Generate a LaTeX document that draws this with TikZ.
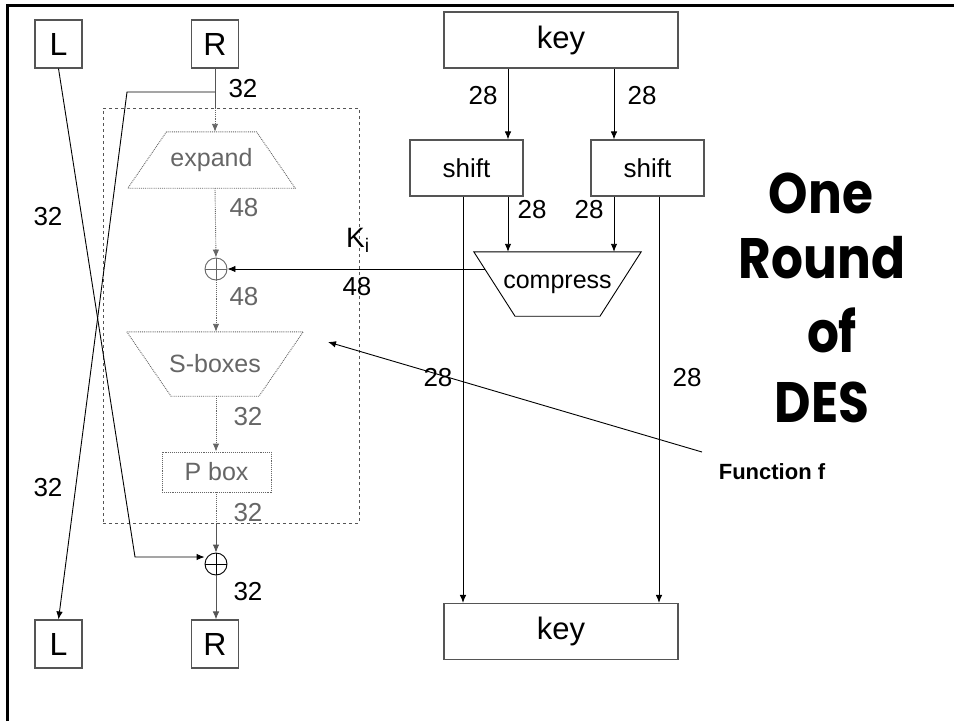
\documentclass[tikz,border=0pt]{standalone}
\usepackage{fontspec}
\setmainfont{Liberation Sans}
\newfontfamily\titlefont[FakeStretch=0.88]{Poppins}
\usetikzlibrary{arrows.meta,calc}
\definecolor{fgray}{HTML}{666666}
\definecolor{boxc}{HTML}{555555}
\tikzset{
  lbl/.style={font=\fontsize{26}{30}\selectfont, inner sep=0pt},
  glbl/.style={lbl, text=fgray},
  blk/.style={draw=boxc, line width=1.1pt, inner sep=0pt},
  regbox/.style={blk, minimum width=47pt, minimum height=48pt, font=\fontsize{32}{36}\selectfont},
  keybox/.style={blk, minimum width=234pt, minimum height=56pt, font=\fontsize{31}{36}\selectfont},
  shiftbox/.style={blk, minimum width=113pt, minimum height=56pt, font=\fontsize{26}{30}\selectfont},
  ghost/.style={inner sep=0pt, font=\fontsize{25}{30}\selectfont},
  gshape/.style={draw=fgray, line width=0.9pt, densely dotted},
  wire/.style={line width=0.9pt},
  arr/.style={wire, -{Latex[length=8pt,width=6.5pt]}},
  gwire/.style={wire, draw=fgray, densely dotted},
  garr/.style={gwire, -{Latex[length=8pt,width=6.5pt,fill=fgray]}},
  xorop/.style={circle, draw, line width=0.9pt, minimum size=22pt, inner sep=0pt,
    path picture={\draw[line width=0.9pt]
      (path picture bounding box.north) -- (path picture bounding box.south)
      (path picture bounding box.west) -- (path picture bounding box.east);}},
  titletxt/.style={anchor=base, inner sep=0pt, font=\titlefont\bfseries\fontsize{57}{70}\selectfont},
}
\begin{document}
\begin{tikzpicture}[x=1pt,y=-1pt]
\useasboundingbox (0,0) rectangle (954,721);

% page frame (top and left rules)
\draw[line width=3pt] (7.5,721) -- (7.5,5.5) -- (954,5.5);

% ---------- data path ----------
\node[regbox] (L1) at (58.5,44) {L};
\node[regbox] (R1) at (215,44) {R};
\node[regbox] (L2) at (58.5,644) {L};
\node[regbox] (R2) at (215,644) {R};

% the round function f
\node[draw=boxc, dashed, line width=0.9pt, minimum width=256pt, minimum height=415pt, inner sep=0pt] (fbox) at (231,315.5) {};

\node[ghost, minimum width=167pt, minimum height=56pt, text=fgray] (exp) at (211.5,160) {expand};
\draw[gshape] ($(exp.north)+(-45,0)$) -- ($(exp.north)+(45,0)$) -- (exp.south east) -- (exp.south west) -- cycle;

\node[xorop, draw=fgray, path picture={\draw[fgray, line width=0.9pt]
      (path picture bounding box.north) -- (path picture bounding box.south)
      (path picture bounding box.west) -- (path picture bounding box.east);}] (xor1) at (216,269) {};

\node[ghost, minimum width=176pt, minimum height=64pt, text=fgray] (sbox) at (215,364) {S-boxes};
\draw[gshape] (sbox.north west) -- (sbox.north east) -- ($(sbox.south)+(44,0)$) -- ($(sbox.south)+(-44,0)$) -- cycle;

\node[ghost, gshape, minimum width=109pt, minimum height=40pt, text=fgray] (pbox) at (216.5,472) {P box};

\node[xorop] (xor2) at (216,564) {};

% connectors of the data path
\coordinate (rsplit) at (215,92);
\coordinate (rin) at (215,108);
\coordinate (rbend) at (127,92);
\coordinate (lbend) at (135,557);
\coordinate (pout) at (216,523);

\draw[wire, draw=boxc] (R1.south) -- (rin);
\draw[garr] (rin) -- (rin |- exp.north);
\draw[garr] (rin |- exp.south) -- (xor1.north);
\draw[garr] (xor1.south) -- (xor1.south |- sbox.north);
\draw[garr] (xor1.south |- sbox.south) -- (xor1.south |- pbox.north);
\draw[gwire] (pout |- pbox.south) -- (pout);
\draw[arr, draw=boxc] (pout) -- (xor2.north);
\draw[arr, draw=boxc] (xor2.south) -- (xor2.south |- R2.north);

\draw[arr] (rsplit) -- (rbend) -- (L2.north);
\draw[arr] (L1.south) -- (lbend) -- (lbend -| xor2.west);

% width labels
\node[lbl] (n1) at (243,89) {32};
\node[lbl] (n2) at (48,217) {32};
\node[lbl] (n3) at (48,488) {32};
\node[glbl] (n4) at (244,208) {48};
\node[glbl] (n5) at (244,297) {48};
\node[glbl] (n6) at (248,417) {32};
\node[glbl] (n7) at (248,513) {32};
\node[lbl] (n8) at (248,592) {32};

% ---------- key schedule ----------
\node[keybox] (keytop) at (561,40) {key};
\node[keybox] (keybot) at (561,631.5) {key};
\node[shiftbox] (shift1) at (466.5,168) {shift};
\node[shiftbox] (shift2) at (647.5,168) {shift};

\node[ghost, minimum width=167pt, minimum height=64pt] (cmp) at (557.5,284) {compress};
\draw[line width=0.9pt] (cmp.north west) -- (cmp.north east) -- ($(cmp.south)+(42.5,0)$) -- ($(cmp.south)+(-42.5,0)$) -- cycle;

\coordinate (ka) at (508,0);
\coordinate (kb) at (614,0);
\coordinate (da) at (463,0);
\coordinate (db) at (659,0);
\coordinate (kiout) at (485,269);

\draw[arr] (keytop.south -| ka) -- (shift1.north -| ka);
\draw[arr] (keytop.south -| kb) -- (shift2.north -| kb);
\draw[arr] (shift1.south -| ka) -- (cmp.north -| ka);
\draw[arr] (shift2.south -| kb) -- (cmp.north -| kb);
\draw[arr] (shift1.south -| da) -- (keybot.north -| da);
\draw[arr] (shift2.south -| db) -- (keybot.north -| db);
\draw[arr] (kiout) -- (xor1.east);

\node[lbl] (m1) at (483,96) {28};
\node[lbl] (m2) at (642,96) {28};
\node[lbl] (m3) at (532,210) {28};
\node[lbl] (m4) at (589,210) {28};
\node[lbl] (m5) at (438,378) {28};
\node[lbl] (m6) at (687,378) {28};
\node[lbl] (m7) at (357,287) {48};
\node[inner sep=0pt, font=\fontsize{28}{32}\selectfont, anchor=base west] (ki) at (346,247) {K\textsubscript{i}};

% ---------- annotations ----------
\coordinate (fstart) at (702,452);
\coordinate (ftip) at (328,342);
\draw[arr] (fstart) -- (ftip);
\node[inner sep=0pt, font=\bfseries\fontsize{22}{26}\selectfont] (fname) at (772,472) {Function f};

\node[titletxt] (t1) at (821,213) {One};
\node[titletxt] (t2) at (822,278) {Round};
\node[titletxt] (t3) at (832,352) {of};
\node[titletxt] (t4) at (822,422) {DES};
\end{tikzpicture}
\end{document}
